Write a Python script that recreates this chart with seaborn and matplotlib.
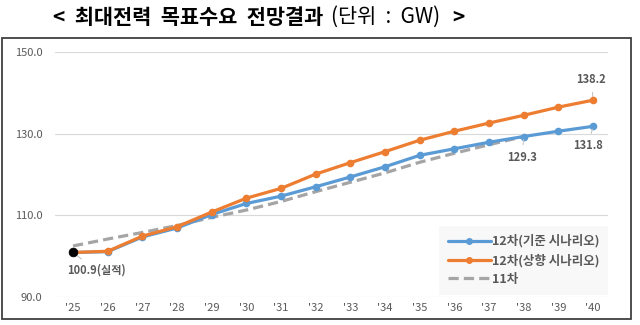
import matplotlib
matplotlib.use("Agg")
import matplotlib.pyplot as plt
from matplotlib.patches import Rectangle
from matplotlib.lines import Line2D
import seaborn as sns
import pandas as pd

sns.set_theme(style="white")
plt.rcParams['font.family'] = ['Noto Sans CJK KR', 'DejaVu Sans']

years = list(range(2025, 2041))
tick_labels = ["'" + str(y)[2:] for y in years]
base_12 = [100.9, 101.1, 104.7, 106.9, 110.2, 112.9, 114.7, 117.0,
           119.4, 121.9, 124.7, 126.3, 127.9, 129.3, 130.6, 131.8]
upper_12 = [100.9, 101.2, 104.9, 107.2, 110.8, 114.2, 116.6, 120.1,
            122.9, 125.6, 128.4, 130.6, 132.6, 134.5, 136.5, 138.2]
years_11 = list(range(2025, 2039))
plan_11 = [102.5, 104.2, 105.8, 107.5, 109.5, 111.3, 113.4, 115.8,
           118.1, 120.4, 123.0, 125.2, 127.3, 129.3]
actual_year = [2025]
actual_val = [100.9]

name_base = "12차(기준 시나리오)"
name_up = "12차(상향 시나리오)"
name_11 = "11차"

c_blue = "#5B9BD5"
c_orange = "#ED7D31"
c_gray = "#A5A5A5"
c_text = "#595959"

fig = plt.figure(figsize=(6.4, 3.25), dpi=100)
ax = fig.add_axes([55/640, 1-297/325, (608-55)/640, (297-52)/325])

df11 = pd.DataFrame({"year": years_11, "val": plan_11})
dfb = pd.DataFrame({"year": years, "val": base_12})
dfu = pd.DataFrame({"year": years, "val": upper_12})

sns.lineplot(data=df11, x="year", y="val", ax=ax, color=c_gray, lw=2.3,
             linestyle=(0, (3.2, 1.6)), zorder=2)
sns.lineplot(data=dfb, x="year", y="val", ax=ax, color=c_blue, lw=2.3,
             marker="o", markersize=5.5, markeredgewidth=0, zorder=3)
sns.lineplot(data=dfu, x="year", y="val", ax=ax, color=c_orange, lw=2.3,
             marker="o", markersize=5.5, markeredgewidth=0, zorder=4)
sns.scatterplot(x=actual_year, y=actual_val, ax=ax, color="black", s=40,
                edgecolor="black", zorder=5)

ax.set_xlim(2024.48, 2040.43)
ax.set_ylim(90, 150)
ax.set_yticks([90, 110, 130, 150])
ax.set_yticklabels([f"{v:.1f}" for v in [90, 110, 130, 150]])
ax.set_xticks(years)
ax.set_xticklabels(tick_labels)
ax.tick_params(axis='both', length=0, colors=c_text, labelsize=8)
ax.tick_params(axis='y', pad=9)
ax.tick_params(axis='x', pad=4)
ax.set_xlabel("")
ax.set_ylabel("")
ax.grid(axis='y', color="#D9D9D9", lw=0.8)
for s in ax.spines.values():
    s.set_visible(False)

# annotations
ann_kw = dict(fontsize=8, color=c_text, fontweight="bold",
              arrowprops=dict(arrowstyle="-", color="#BFBFBF", lw=0.7))
ax.annotate(f"{upper_12[-1]:.1f}", xy=(years[-1], upper_12[-1]),
            xytext=(years[-1] - 0.05, 143.2), ha="center", va="center", **ann_kw)
ax.annotate(f"{base_12[-1]:.1f}", xy=(years[-1], base_12[-1]),
            xytext=(years[-1] - 0.15, 127.0), ha="center", va="center", **ann_kw)
ax.annotate(f"{plan_11[-1]:.1f}", xy=(years_11[-1], plan_11[-1]),
            xytext=(years_11[-1] - 0.05, 124.2), ha="center", va="center", **ann_kw)
ax.annotate(f"{actual_val[0]:.1f}(실적)", xy=(actual_year[0], actual_val[0]),
            xytext=(2025.67, 96.5), ha="center", va="center", **ann_kw)

handles = [
    Line2D([0], [0], color=c_blue, lw=2.3, marker="o", markersize=4),
    Line2D([0], [0], color=c_orange, lw=2.3, marker="o", markersize=4),
    Line2D([0], [0], color=c_gray, lw=2.3, linestyle=(0, (3.2, 1.6))),
]
leg = ax.legend(handles, [name_base, name_up, name_11], loc="lower right",
                bbox_to_anchor=(1.0, 0.01), frameon=True, fontsize=9,
                handlelength=3.4, handletextpad=0.1, labelspacing=0.45,
                borderpad=0.7, borderaxespad=0.0, fancybox=False)
leg.get_frame().set_facecolor("#F7F7F7")
leg.get_frame().set_edgecolor("none")
for t in leg.get_texts():
    t.set_color(c_text)
    t.set_fontweight("bold")

# outer frame
fig.add_artist(Rectangle((2/640, 1-319/325), 629/640, 281/325,
                         transform=fig.transFigure, fill=False,
                         edgecolor="#404040", lw=1.3))

# title, pieces placed side by side
renderer = fig.canvas.get_renderer()
pieces = [("<  최대전력  목표수요  전망결과", "bold", 15, 0),
          ("(단위  :  GW)", "normal", 15, 8),
          (">", "bold", 15, 12)]
xpix = 53
ypos = 1 - 17/325
for txt, w, fs, gap in pieces:
    xpix += gap
    t = fig.text(xpix/640, ypos, txt, fontsize=fs, fontweight=w,
                 color="black", ha="left", va="center")
    bb = t.get_window_extent(renderer=renderer)
    xpix = bb.x1

fig.savefig("out.png", dpi=100)
